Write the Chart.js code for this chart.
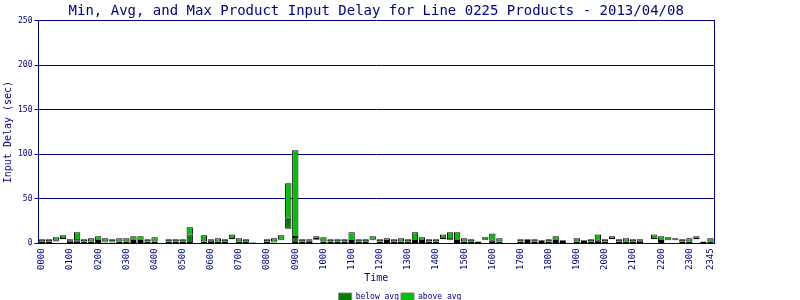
<!DOCTYPE html>
<html>
<head>
<meta charset="utf-8">
<script src="https://cdn.jsdelivr.net/npm/chart.js@4"></script>
<style>
  html, body { margin: 0; padding: 0; background: #fff; }
  #wrap { width: 800px; height: 300px; }
</style>
</head>
<body>
<div id="wrap"><canvas id="myChart"></canvas></div>
<script>
const times = [
  '0000','0015','0030','0045','0100','0115','0130','0145',
  '0200','0215','0230','0245','0300','0315','0330','0345',
  '0400','0415','0430','0445','0500','0515','0530','0545',
  '0600','0615','0630','0645','0700','0715','0730','0745',
  '0800','0815','0830','0845','0900','0915','0930','0945',
  '1000','1015','1030','1045','1100','1115','1130','1145',
  '1200','1215','1230','1245','1300','1315','1330','1345',
  '1400','1415','1430','1445','1500','1515','1530','1545',
  '1600','1615','1630','1645','1700','1715','1730','1745',
  '1800','1815','1830','1845','1900','1915','1930','1945',
  '2000','2015','2030','2045','2100','2115','2130','2145',
  '2200','2215','2230','2245','2300','2315','2330','2345'
];

// min / avg / max delay in seconds per 15 minute slot (null = no products)
const minDelay = [
  0.5, 0.5, 2, 4.5, 0.5, 0.5, 0.5, 0.5,
  0.5, 1, 1, 0.5, 0.5, 0.5, 0.5, 0.5,
  0.5, null, 0.5, 0.5, 0.5, 0.5, null, 0.5,
  0.5, 0.5, 0.5, 4.5, 0.5, 0.5, 0.2, null,
  0.5, 1, 3.4, 16.5, 0.5, 0.5, 0.5, 4,
  0.5, 0.5, 0.5, 0.5, 0.5, 0.5, 0.5, 3.4,
  0.5, 0.5, 0.5, 0.5, 0.5, 0.5, 0.5, 0.5,
  0.5, 4.5, 3.4, 0.5, 0.5, 0.5, 0.3, 3.4,
  0.5, 0.5, null, null, 0.5, 0.5, 0.5, 0.5,
  0.5, 0.5, 0.5, null, 0.5, 0.5, 0.5, 0.5,
  0.5, 4.5, 0.5, 0.5, 0.5, 0.5, null, 4.5,
  0.5, 3.4, 3.4, 0.5, 0.5, 4.5, 0.3, 0.5
];
const avgDelay = [
  2, 2, 3, 5, 3.5, 3.4, 2, 2,
  2.5, 2, 2, 2, 2, 2.5, 2.5, 2,
  2, null, 2, 2, 2, 10, null, 2,
  3.5, 2, 2, 5, 2, 2, 0.8, null,
  2, 2, 4, 27.5, 7, 2, 3.5, 5,
  2, 2, 2, 2, 2.5, 2, 2, 4,
  2, 2.5, 2, 2, 2, 2.5, 2.5, 2,
  2, 5, 4.5, 2.5, 2, 2, 1.5, 4,
  3, 2, null, null, 2, 2.5, 2, 1.5,
  2, 2.5, 1.5, null, 2, 1.5, 2, 3,
  2, 5, 2, 2, 2, 3.5, null, 5,
  2.5, 4, 4, 2, 2, 5, 1.5, 2
];
const maxDelay = [
  4.5, 4.5, 6.8, 9, 4.5, 12.4, 4.5, 5.6,
  7.9, 5.6, 4.5, 5.6, 5.6, 7.9, 7.9, 4.5,
  6.8, null, 4.5, 4.5, 4.5, 18, null, 9,
  4.5, 5.6, 4.5, 10, 5.6, 4.5, 1.2, null,
  4.5, 5.6, 9, 67.5, 104.5, 4.5, 4.5, 7.9,
  6.8, 4.5, 4.5, 4.5, 12.4, 4.5, 4.5, 7.9,
  4.5, 5.6, 4.5, 5.6, 4.5, 12.4, 6.8, 4.5,
  4.5, 10, 12.4, 12.4, 5.6, 4.5, 2, 6.8,
  11, 5.6, null, null, 4.5, 4.5, 4.5, 3.4,
  4.5, 7.9, 3.4, null, 5.6, 3.4, 4.5, 10,
  4.5, 7.9, 4.5, 5.6, 4.5, 4.5, null, 10,
  7.9, 6.8, 5.6, 4.5, 5.6, 7.9, 2, 5.6
];
const yTicks = [0, 50, 100, 150, 200, 250];

const navy = '#000080';
const mono = 'DejaVu Sans Mono, Liberation Mono, monospace';

const belowData = times.map((t, i) => minDelay[i] == null ? null : [minDelay[i], avgDelay[i]]);
const aboveData = times.map((t, i) => maxDelay[i] == null ? null : [avgDelay[i], maxDelay[i]]);

const ctx = document.getElementById('myChart');
new Chart(ctx, {
  type: 'bar',
  data: {
    labels: times,
    datasets: [
      {
        label: 'below avg',
        data: belowData,
        backgroundColor: '#008000',
        borderColor: '#000000',
        borderWidth: 1,
        borderSkipped: false,
        grouped: false,
        barPercentage: 0.9,
        categoryPercentage: 1.0
      },
      {
        label: 'above avg',
        data: aboveData,
        backgroundColor: '#00c000',
        borderColor: '#000000',
        borderWidth: 1,
        borderSkipped: false,
        grouped: false,
        barPercentage: 0.9,
        categoryPercentage: 1.0
      }
    ]
  },
  options: {
    responsive: true,
    maintainAspectRatio: false,
    animation: false,
    layout: { padding: { top: 0, left: 0, right: 0, bottom: -11 } },
    plugins: {
      title: {
        display: true,
        fullSize: false,
        text: 'Min, Avg, and Max Product Input Delay for Line 0225 Products - 2013/04/08',
        color: navy,
        font: { family: mono, size: 14, weight: 'normal' },
        padding: { top: 3, bottom: 1 }
      },
      legend: {
        position: 'bottom',
        labels: {
          color: navy,
          font: { family: mono, size: 8 },
          boxWidth: 13,
          boxHeight: 8,
          padding: 2,
          generateLabels(chart) {
            const items = Chart.defaults.plugins.legend.labels.generateLabels(chart);
            items.forEach(it => { it.strokeStyle = '#808080'; it.lineWidth = 1; });
            return items;
          }
        }
      },
      tooltip: { enabled: false }
    },
    scales: {
      x: {
        grid: { display: false, drawTicks: false },
        border: { display: true, color: navy },
        ticks: {
          autoSkip: false,
          maxRotation: 90,
          minRotation: 90,
          padding: 5,
          color: navy,
          font: { family: mono, size: 9 },
          callback(value, index) {
            const t = times[index];
            return (t.endsWith('00') || index === times.length - 1) ? t : '';
          }
        },
        title: {
          display: true,
          text: 'Time',
          color: navy,
          font: { family: mono, size: 10 },
          padding: { top: -3, bottom: 7 }
        }
      },
      y: {
        min: 0,
        max: 250,
        afterBuildTicks(scale) { scale.ticks = yTicks.map(v => ({ value: v })); },
        grid: { color: navy, lineWidth: 1, tickLength: 4 },
        border: { display: true, color: navy },
        ticks: {
          color: navy,
          padding: 2,
          font: { family: mono, size: 8 }
        },
        title: {
          display: true,
          text: 'Input Delay (sec)',
          color: navy,
          font: { family: mono, size: 10 },
          padding: { top: 2, bottom: 2 }
        }
      },
      y2: {
        position: 'right',
        min: 0,
        max: 250,
        grid: { display: false, drawTicks: false },
        border: { display: true, color: navy },
        ticks: { display: false },
        afterFit(scale) { scale.width = 86; }
      }
    }
  }
});
</script>
</body>
</html>
